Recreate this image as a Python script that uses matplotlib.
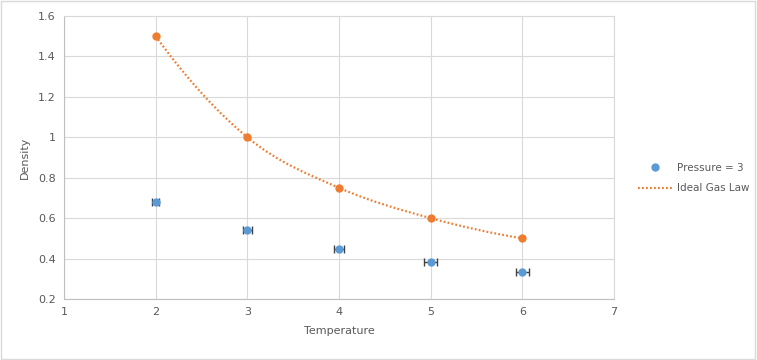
import matplotlib.pyplot as plt
from matplotlib.path import Path
from matplotlib.patches import PathPatch
import matplotlib.lines as mlines

# data
temperature = [2, 3, 4, 5, 6]
density = [0.680, 0.541, 0.447, 0.383, 0.333]
temp_err = [0.04, 0.05, 0.06, 0.07, 0.07]
ideal_density = [1.5, 1.0, 0.75, 0.6, 0.5]

blue = '#5B9BD5'
orange = '#ED7D31'
grid_c = '#D9D9D9'
text_c = '#595959'

plt.rcParams['font.family'] = ['DejaVu Sans']
fig = plt.figure(figsize=(7.57, 3.6), dpi=100)
ax = fig.add_axes([64 / 757, 1 - 299 / 360, 550 / 757, 283 / 360])

# smooth curve through the points (cubic bezier, catmull-rom tangents)
xs, ys = temperature, ideal_density
n = len(xs)
tang = []
for i in range(n):
    if 0 < i < n - 1:
        tang.append(((xs[i + 1] - xs[i - 1]) / 2, (ys[i + 1] - ys[i - 1]) / 2))
    else:
        tang.append(None)
# end tangents mirrored from the neighbouring one
m1 = tang[1]
tang[0] = (2 * (xs[1] - xs[0]) - m1[0], 2 * (ys[1] - ys[0]) - m1[1])
mk = tang[n - 2]
tang[n - 1] = (2 * (xs[n - 1] - xs[n - 2]) - mk[0], 2 * (ys[n - 1] - ys[n - 2]) - mk[1])

verts = [(xs[0], ys[0])]
codes = [Path.MOVETO]
for i in range(n - 1):
    c1 = (xs[i] + tang[i][0] / 3, ys[i] + tang[i][1] / 3)
    c2 = (xs[i + 1] - tang[i + 1][0] / 3, ys[i + 1] - tang[i + 1][1] / 3)
    verts += [c1, c2, (xs[i + 1], ys[i + 1])]
    codes += [Path.CURVE4] * 3
patch = PathPatch(Path(verts, codes), facecolor='none', edgecolor=orange,
                  lw=1.6, linestyle=(0, (0.8, 1.0)), zorder=2)
ax.add_patch(patch)
ax.plot(xs, ys, 'o', color=orange, ms=5, zorder=3)

ax.errorbar(temperature, density, xerr=temp_err, fmt='o', color=blue, ms=5,
            ecolor='#404040', elinewidth=1, capsize=3, capthick=1, zorder=4)

ax.set_xlim(1, 7)
ax.set_ylim(0.2, 1.6)
ax.set_xticks(range(1, 8))
ax.set_yticks([0.2, 0.4, 0.6, 0.8, 1, 1.2, 1.4, 1.6])
ax.set_yticklabels(['0.2', '0.4', '0.6', '0.8', '1', '1.2', '1.4', '1.6'])
ax.grid(True, color=grid_c, lw=0.8)
ax.set_axisbelow(True)
for s in ['top', 'right']:
    ax.spines[s].set_color(grid_c)
for s in ['left', 'bottom']:
    ax.spines[s].set_color('#BFBFBF')
ax.tick_params(length=0, labelsize=8, colors=text_c, pad=6)
ax.set_xlabel('Temperature', fontsize=8, color=text_c, labelpad=6)
ax.set_ylabel('Density', fontsize=8, color=text_c, labelpad=6)

h1 = mlines.Line2D([], [], marker='o', color=blue, ls='none', ms=5)
h2 = mlines.Line2D([], [], color=orange, lw=1.6, ls=(0, (0.8, 1.0)))
fig.legend([h1, h2], ['Pressure = 3', 'Ideal Gas Law'], loc='upper left',
           bbox_to_anchor=(636 / 757, 1 - 161 / 360), frameon=False,
           fontsize=7.5, labelcolor=text_c, handlelength=3.3, handletextpad=0.4,
           labelspacing=1.0, borderaxespad=0, borderpad=0.2)

fig.patches.append(plt.Rectangle((0.001, 0.002), 0.997, 0.995, transform=fig.transFigure,
                                 fill=False, edgecolor='#D9D9D9', lw=1))
fig.savefig('out.png', dpi=100)
